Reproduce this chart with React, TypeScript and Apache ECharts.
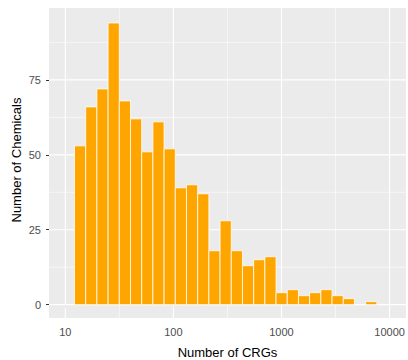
import React, { useEffect, useRef } from "react";
import * as echarts from "echarts";

// Histogram of CRG counts per chemical, binned on a log10 scale
const binStartLog10 = 1.085;
const binWidthLog10 = 0.1036;
const binCounts = [53, 66, 72, 94, 68, 62, 51, 61, 52, 39, 40, 37, 18, 28, 18, 13, 15, 16, 4, 5, 3, 4, 5, 3, 2, 0, 1];

const xTickLog10 = [1, 2, 3, 4];
const xMinorLog10 = [1.5, 2.5, 3.5];
const yTicks = [0, 25, 50, 75];
const yMinor = [12.5, 37.5, 62.5, 87.5];

const xTitle = "Number of CRGs";
const yTitle = "Number of Chemicals";

const FONT = '"Liberation Sans", Arial, sans-serif';

export default function App() {
  const ref = useRef<HTMLDivElement>(null);

  useEffect(() => {
    if (!ref.current) return;
    const chart = echarts.init(ref.current, null, { renderer: "svg" });

    const bins = binCounts.map((c, i) => [
      binStartLog10 + i * binWidthLog10,
      binStartLog10 + (i + 1) * binWidthLog10,
      c,
    ]);

    const option: any = {
      animation: false,
      grid: {
        left: 49,
        top: 8,
        right: 2,
        bottom: 42,
        show: true,
        backgroundColor: "#EBEBEB",
        borderWidth: 0,
      },
      xAxis: {
        type: "value",
        min: 0.849,
        max: 4.152,
        axisLine: { show: false },
        splitLine: { show: false },
        axisTick: {
          show: true,
          customValues: xTickLog10,
          length: 3,
          lineStyle: { color: "#333333", width: 1 },
        },
        axisLabel: {
          customValues: xTickLog10,
          formatter: (v: number) => String(Math.round(Math.pow(10, v))),
          color: "#4D4D4D",
          fontSize: 11,
          fontFamily: FONT,
          margin: 8,
        },
      },
      yAxis: {
        type: "value",
        min: -4.45,
        max: 99,
        axisLine: { show: false },
        splitLine: { show: false },
        axisTick: {
          show: true,
          customValues: yTicks,
          length: 3,
          lineStyle: { color: "#333333", width: 1 },
        },
        axisLabel: {
          customValues: yTicks,
          color: "#4D4D4D",
          fontSize: 11,
          fontFamily: FONT,
          margin: 8,
        },
      },
      series: [
        {
          // panel grid lines
          type: "custom",
          silent: true,
          z: 1,
          data: [[0, 0]],
          renderItem: (params: any, api: any) => {
            const cs = params.coordSys;
            const children: any[] = [];
            const vline = (v: number, w: number) => {
              const x = api.coord([v, 0])[0];
              children.push({
                type: "line",
                shape: { x1: x, y1: cs.y, x2: x, y2: cs.y + cs.height },
                style: { stroke: "#FFFFFF", lineWidth: w },
              });
            };
            const hline = (v: number, w: number) => {
              const y = api.coord([0, v])[1];
              children.push({
                type: "line",
                shape: { x1: cs.x, y1: y, x2: cs.x + cs.width, y2: y },
                style: { stroke: "#FFFFFF", lineWidth: w },
              });
            };
            yMinor.forEach((v) => hline(v, 0.55));
            xMinorLog10.forEach((v) => vline(v, 0.55));
            yTicks.forEach((v) => hline(v, 1.1));
            xTickLog10.forEach((v) => vline(v, 1.1));
            return { type: "group", children };
          },
        },
        {
          type: "custom",
          z: 2,
          data: bins,
          encode: { x: [0, 1], y: 2 },
          renderItem: (params: any, api: any) => {
            const lo = api.value(0);
            const hi = api.value(1);
            const c = api.value(2);
            if (!c) return null;
            const p0 = api.coord([lo, c]);
            const p1 = api.coord([hi, 0]);
            return {
              type: "rect",
              shape: { x: p0[0], y: p0[1], width: p1[0] - p0[0], height: p1[1] - p0[1] },
              style: { fill: "#FFA500", stroke: "#FFFFFF", lineWidth: 0.8 },
            };
          },
        },
      ],
      graphic: [
        {
          type: "text",
          x: 227.5,
          y: 352,
          style: {
            text: xTitle,
            fill: "#000000",
            font: `13px ${FONT}`,
            align: "center",
            verticalAlign: "middle",
          },
        },
        {
          type: "text",
          x: 16.5,
          y: 160,
          rotation: Math.PI / 2,
          style: {
            text: yTitle,
            fill: "#000000",
            font: `13px ${FONT}`,
            align: "center",
            verticalAlign: "middle",
          },
        },
      ],
    };

    chart.setOption(option);
    return () => chart.dispose();
  }, []);

  return (
    <div
      ref={ref}
      style={{ position: "fixed", left: 0, top: 0, width: 408, height: 360, background: "#FFFFFF" }}
    />
  );
}
